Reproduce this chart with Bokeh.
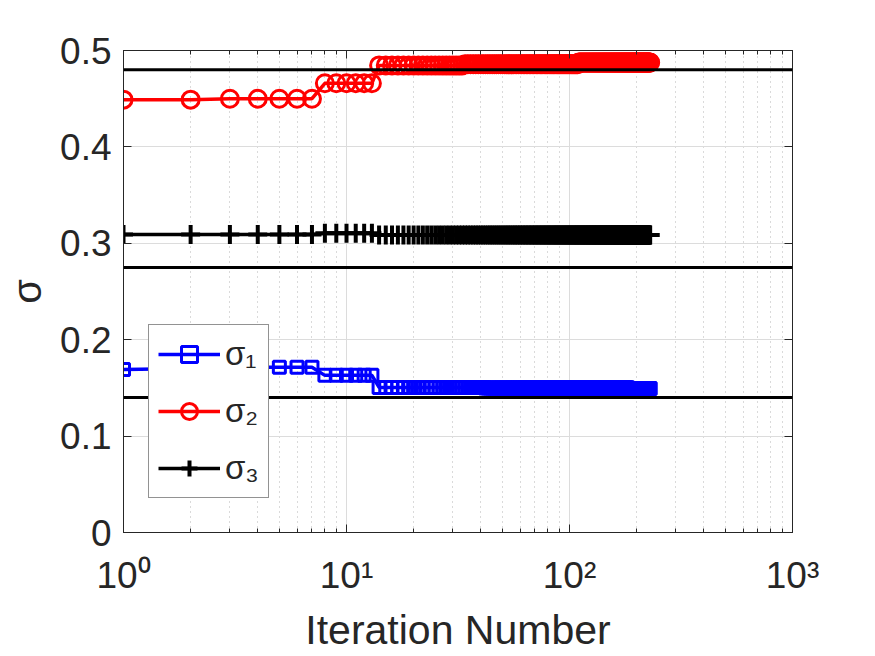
import numpy as np
from bokeh.plotting import figure
from bokeh.models import (Range1d, FixedTicker, Span, Legend, LegendItem,
                          LinearAxis, LogAxis)
from bokeh.embed import file_html
from bokeh.resources import INLINE

# ---------------- data ----------------
N_ITER = 230
iterations = np.arange(1, N_ITER + 1)

# piecewise levels, with how many iterations each lasts
sigma1_levels = [0.169, 0.170, 0.1715, 0.163, 0.1505, 0.150, 0.1495]
sigma1_runs = [1, 2, 4, 6, 28, 142, 47]

sigma2_levels = [0.449, 0.450, 0.466, 0.4845, 0.4858, 0.4875]
sigma2_runs = [2, 5, 6, 20, 76, 121]

sigma3_levels = [0.309, 0.3105, 0.3085]
sigma3_runs = [7, 6, 217]

reference_levels = [0.48, 0.275, 0.14]

series_labels = ["σ₁", "σ₂", "σ₃"]

x_major_ticks = [1, 10, 100, 1000]
x_tick_labels = ["10⁰", "10¹", "10²", "10³"]
x_minor_ticks = [m * d for d in (1, 10, 100) for m in range(2, 10)]
y_ticks = [0.0, 0.1, 0.2, 0.3, 0.4, 0.5]
y_tick_labels = ["0", "0.1", "0.2", "0.3", "0.4", "0.5"]

sigma1 = np.repeat(sigma1_levels, sigma1_runs)
sigma2 = np.repeat(sigma2_levels, sigma2_runs)
sigma3 = np.repeat(sigma3_levels, sigma3_runs)

# ---------------- figure ----------------
FONT = "Liberation Sans"
TXT = "#262626"

p = figure(width=875, height=656, x_axis_type="log",
           x_range=Range1d(1, 1000), y_range=Range1d(0, 0.5),
           output_backend="svg", toolbar_location=None,
           min_border_left=123, min_border_right=83,
           min_border_top=50, min_border_bottom=124)
p.background_fill_color = "white"
p.border_fill_color = "white"
p.outline_line_color = TXT
p.outline_line_width = 1

xticker = FixedTicker(ticks=x_major_ticks, minor_ticks=x_minor_ticks)
yticker = FixedTicker(ticks=y_ticks)

xa = p.xaxis[0]
xa.ticker = xticker
xa.major_label_overrides = dict(zip(x_major_ticks, x_tick_labels))
xa.major_label_text_font = FONT
xa.major_label_text_font_size = "37px"
xa.major_label_text_color = TXT
xa.major_label_standoff = 22
xa.axis_label = "Iteration Number"
xa.axis_label_text_font = FONT
xa.axis_label_text_font_size = "41px"
xa.axis_label_text_font_style = "normal"
xa.axis_label_text_color = TXT
xa.axis_label_standoff = 8

ya = p.yaxis[0]
ya.ticker = yticker
ya.major_label_overrides = dict(zip(y_ticks, y_tick_labels))
ya.major_label_text_font = FONT
ya.major_label_text_font_size = "37px"
ya.major_label_text_color = TXT
ya.major_label_standoff = 12
ya.axis_label = "σ"
ya.axis_label_text_font = FONT
ya.axis_label_text_font_size = "40px"
ya.axis_label_text_font_style = "normal"
ya.axis_label_text_color = TXT
ya.axis_label_standoff = 8

for ax in (xa, ya):
    ax.axis_line_color = TXT
    ax.major_tick_line_color = TXT
    ax.major_tick_in = 8
    ax.major_tick_out = 0
    ax.minor_tick_in = 4
    ax.minor_tick_out = 0
xa.minor_tick_line_color = TXT
ya.minor_tick_line_color = None

top = LogAxis(ticker=xticker,
              major_label_overrides={t: "" for t in x_major_ticks},
              major_tick_in=8, major_tick_out=0, minor_tick_in=4, minor_tick_out=0,
              major_tick_line_color=TXT, minor_tick_line_color=TXT,
              axis_line_color=TXT, major_label_standoff=0)
p.add_layout(top, "above")
right = LinearAxis(ticker=yticker,
                   major_label_overrides={t: "" for t in y_ticks},
                   major_tick_in=8, major_tick_out=0, minor_tick_line_color=None,
                   major_tick_line_color=TXT, axis_line_color=TXT,
                   major_label_standoff=0)
p.add_layout(right, "right")

p.xgrid.ticker = xticker
p.xgrid.grid_line_color = "#dcdcdc"
p.xgrid.grid_line_width = 1
p.xgrid.minor_grid_line_color = "#b4b4b4"
p.xgrid.minor_grid_line_dash = "1 4"
p.xgrid.minor_grid_line_width = 1
p.ygrid.ticker = yticker
p.ygrid.grid_line_color = "#dcdcdc"
p.ygrid.grid_line_width = 1

# ---------------- series ----------------
BLUE, RED, BLACK = "#0000ff", "#ff0000", "#000000"

l1 = p.line(iterations, sigma1, line_color=BLUE, line_width=3.5)
m1 = p.scatter(iterations, sigma1, marker="square", size=12, fill_color=None,
               line_color=BLUE, line_width=3)
l2 = p.line(iterations, sigma2, line_color=RED, line_width=3.5)
m2 = p.scatter(iterations, sigma2, marker="circle", size=17, fill_color=None,
               line_color=RED, line_width=3)
l3 = p.line(iterations, sigma3, line_color=BLACK, line_width=3.5)
m3 = p.scatter(iterations, sigma3, marker="cross", size=19,
               line_color=BLACK, line_width=4)

for lvl in reference_levels:
    p.add_layout(Span(location=lvl, dimension="width", line_color=BLACK,
                      line_width=3))

legend = Legend(items=[LegendItem(label=series_labels[0], renderers=[l1, m1]),
                       LegendItem(label=series_labels[1], renderers=[l2, m2]),
                       LegendItem(label=series_labels[2], renderers=[l3, m3])],
                location=(25, 34), glyph_width=62, glyph_height=40,
                label_height=40, spacing=17, padding=9, label_standoff=5,
                label_text_font=FONT, label_text_font_size="33px",
                label_text_color=TXT,
                border_line_color=TXT, border_line_width=1,
                background_fill_color="white", background_fill_alpha=1.0,
                margin=0)
p.add_layout(legend, "center")

open("out.html", "w").write(file_html(p, INLINE))
